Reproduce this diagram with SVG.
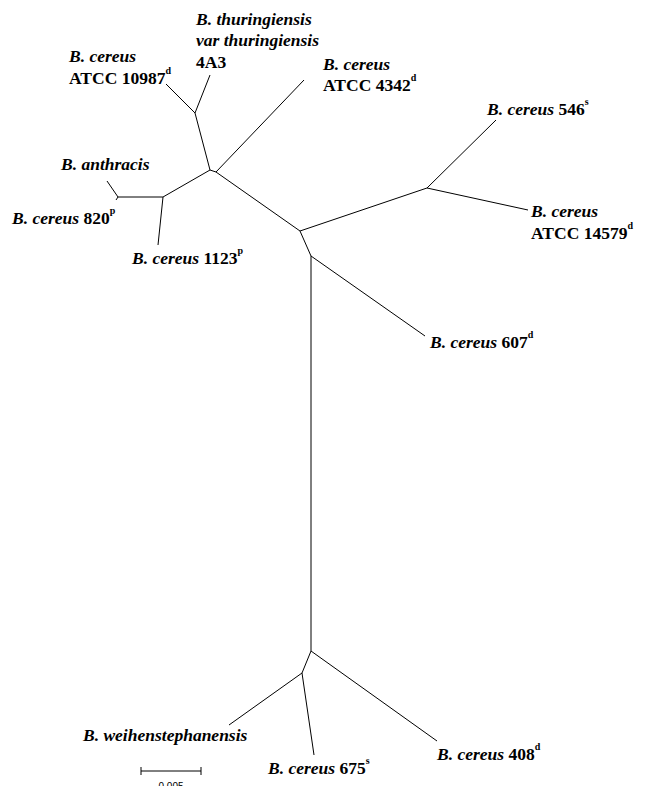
<svg xmlns="http://www.w3.org/2000/svg" width="649" height="786" viewBox="0 0 649 786">
<style>
.t{font-family:"Liberation Serif","Times New Roman",serif;font-size:17.5px;font-weight:bold;fill:#000}
.i{font-style:italic}
.sup{font-size:10px}
.e{stroke:#000;stroke-width:1;fill:none}
.sc{font-family:"Liberation Sans",Arial,sans-serif;font-size:10px;fill:#000}
</style>
<rect width="649" height="786" fill="#fff"/>
<g id="connectors">
<polyline class="e" points="166,84 195,113 210,75"/>
<line class="e" x1="195" y1="113" x2="210" y2="170"/>
<line class="e" x1="210" y1="170" x2="216" y2="172"/>
<line class="e" x1="216" y1="172" x2="304" y2="80"/>
<line class="e" x1="216" y1="172" x2="300" y2="231"/>
<line class="e" x1="300" y1="231" x2="427" y2="188"/>
<line class="e" x1="427" y1="188" x2="496" y2="120"/>
<line class="e" x1="427" y1="188" x2="528" y2="210"/>
<line class="e" x1="300" y1="231" x2="311" y2="256"/>
<line class="e" x1="311" y1="256" x2="425" y2="336"/>
<line class="e" x1="311" y1="256" x2="311" y2="651"/>
<line class="e" x1="311" y1="651" x2="437" y2="741"/>
<line class="e" x1="311" y1="651" x2="302" y2="673"/>
<line class="e" x1="302" y1="673" x2="229" y2="725"/>
<line class="e" x1="302" y1="673" x2="314" y2="755"/>
<line class="e" x1="210" y1="170" x2="163" y2="197"/>
<line class="e" x1="163" y1="197" x2="158" y2="245"/>
<line class="e" x1="163" y1="197" x2="118" y2="197"/>
<line class="e" x1="118" y1="197" x2="107" y2="181"/>
<line class="e" x1="118" y1="197" x2="116" y2="200"/>
</g>
<g id="n-atcc10987">
<text class="t i" x="69" y="62">B. cereus</text>
<text class="t" x="69" y="84">ATCC 10987<tspan class="sup" dy="-10">d</tspan></text>
</g>
<g id="n-thuringiensis">
<text class="t i" x="196" y="25">B. thuringiensis</text>
<text class="t i" x="196" y="46">var thuringiensis</text>
<text class="t" x="196" y="68">4A3</text>
</g>
<g id="n-atcc4342">
<text class="t i" x="323" y="70">B. cereus</text>
<text class="t" x="323" y="91">ATCC 4342<tspan class="sup" dy="-10">d</tspan></text>
</g>
<g id="n-546">
<text class="t" x="487" y="115"><tspan class="i">B. cereus</tspan> 546<tspan class="sup" dy="-10">s</tspan></text>
</g>
<g id="n-atcc14579">
<text class="t i" x="531" y="217">B. cereus</text>
<text class="t" x="531" y="239">ATCC 14579<tspan class="sup" dy="-10">d</tspan></text>
</g>
<g id="n-anthracis">
<text class="t i" x="61" y="170">B. anthracis</text>
</g>
<g id="n-820">
<text class="t" x="12" y="224"><tspan class="i">B. cereus</tspan> 820<tspan class="sup" dy="-10">p</tspan></text>
</g>
<g id="n-1123">
<text class="t" x="132" y="264"><tspan class="i">B. cereus</tspan> 1123<tspan class="sup" dy="-10">p</tspan></text>
</g>
<g id="n-607">
<text class="t" x="430" y="348"><tspan class="i">B. cereus</tspan> 607<tspan class="sup" dy="-10">d</tspan></text>
</g>
<g id="n-weihenstephanensis">
<text class="t i" x="83" y="741">B. weihenstephanensis</text>
</g>
<g id="n-675">
<text class="t" x="268" y="774"><tspan class="i">B. cereus</tspan> 675<tspan class="sup" dy="-10">s</tspan></text>
</g>
<g id="n-408">
<text class="t" x="437" y="760"><tspan class="i">B. cereus</tspan> 408<tspan class="sup" dy="-10">d</tspan></text>
</g>
<g id="scalebar">
<line class="e" x1="141" y1="771" x2="201" y2="771"/>
<line class="e" x1="141" y1="767" x2="141" y2="775"/>
<line class="e" x1="201" y1="767" x2="201" y2="775"/>
<text class="sc" x="171" y="790" text-anchor="middle">0.005</text>
</g>
</svg>
